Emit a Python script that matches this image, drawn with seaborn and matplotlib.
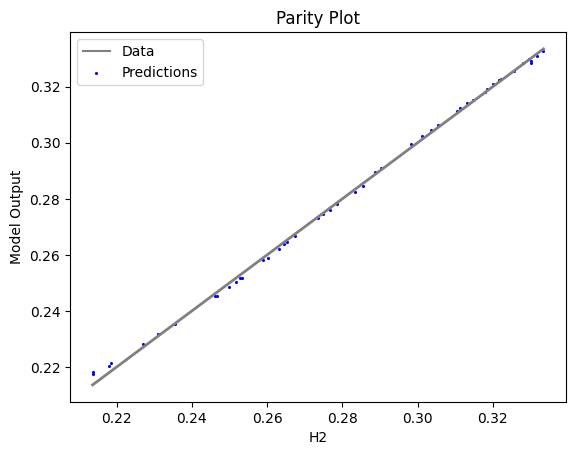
import numpy as np
import pandas as pd
import seaborn as sns
import matplotlib
matplotlib.use('Agg')
import matplotlib.pyplot as plt

# True H2 values (x) and model predictions (y)
h2_true = [0.21361, 0.21361, 0.21787, 0.21840, 0.22711, 0.23092, 0.23564,
           0.24621, 0.24664, 0.24975, 0.25170, 0.25287, 0.25330, 0.25889,
           0.26022, 0.26315, 0.26449, 0.26534, 0.26747, 0.27365, 0.27498,
           0.27685, 0.27866, 0.28345, 0.28537, 0.28870, 0.29038, 0.29829,
           0.30125, 0.30351, 0.30551, 0.31036, 0.31134, 0.31315, 0.31483,
           0.31795, 0.31856, 0.32016, 0.32168, 0.32213, 0.32567, 0.32802,
           0.32962, 0.33007, 0.33020, 0.33180, 0.33348]
h2_pred = [0.21808, 0.21751, 0.22036, 0.22143, 0.22820, 0.23176, 0.23532,
           0.24530, 0.24530, 0.24851, 0.25029, 0.25172, 0.25172, 0.25813,
           0.25885, 0.26205, 0.26383, 0.26448, 0.26672, 0.27321, 0.27446,
           0.27595, 0.27802, 0.28258, 0.28450, 0.28953, 0.29092, 0.29951,
           0.30243, 0.30457, 0.30635, 0.31123, 0.31230, 0.31419, 0.31526,
           0.31822, 0.31918, 0.32086, 0.32228, 0.32275, 0.32549, 0.32856,
           0.33005, 0.32905, 0.32862, 0.33094, 0.33272]

df = pd.DataFrame({'H2': h2_true, 'Pred': h2_pred})

fig, ax = plt.subplots(figsize=(6.4, 4.8), dpi=100)

# Parity line (drawn over the points, like plain matplotlib)
sns.lineplot(data=df, x='H2', y='H2', color='gray', label='Data',
             sort=False, estimator=None, linewidth=2, ax=ax)
sns.scatterplot(data=df, x='H2', y='Pred', color='blue', s=1.5,
                edgecolor='blue', linewidth=1, label='Predictions', ax=ax)

ax.set_title('Parity Plot')
ax.set_xlabel('H2')
ax.set_ylabel('Model Output')
leg = ax.legend(loc='upper left')
leg.get_lines()[0].set_linewidth(1.5)

plt.savefig('out.png', dpi=100, bbox_inches='tight')
